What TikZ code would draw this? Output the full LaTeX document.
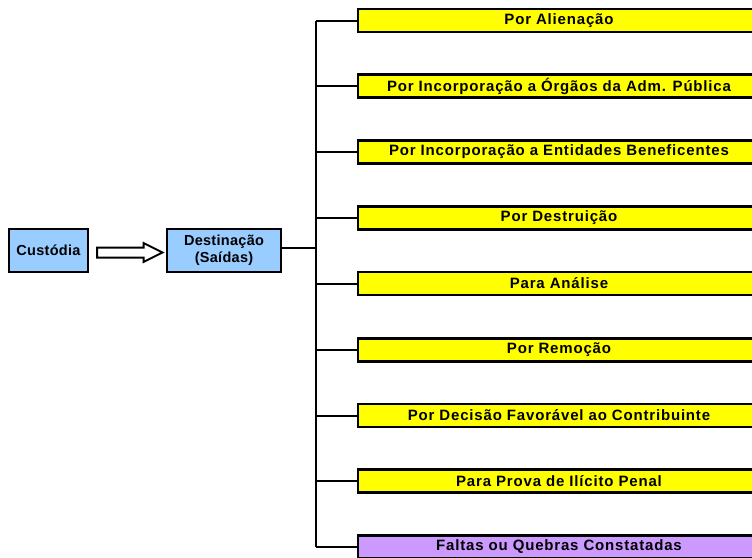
\documentclass[tikz,border=0pt]{standalone}
\usepackage{fontspec}
\setmainfont{Liberation Sans}
\newfontfamily\itemfont{Liberation Sans}[LetterSpace=5.5]
\newfontfamily\bluefont{Liberation Sans}[LetterSpace=2]
\definecolor{lblue}{HTML}{99CCFF}
\definecolor{yel}{HTML}{FFFF00}
\definecolor{lilac}{HTML}{CC99FF}
\tikzset{
  every node/.style={inner sep=0pt},
  bluebox/.style={draw=black, line width=2.5pt, fill=lblue, align=center,
    font=\bluefont\bfseries\fontsize{14.5}{16}\selectfont},
  itembox/.style={draw=black, line width=2.5pt, fill=yel, minimum width=402pt, minimum height=23pt,
    font=\itemfont\bfseries\fontsize{15}{17}\selectfont},
  purplebox/.style={itembox, fill=lilac},
  conn/.style={line width=2pt, draw=black},
}
\begin{document}
\begin{tikzpicture}[x=1pt,y=-1pt]
\useasboundingbox (0,0) rectangle (752,557);
\clip (0,0) rectangle (752,557);
\node[bluebox, minimum width=79pt, minimum height=43pt] (cust) at (48.5,250.5) {Custódia};
\node[bluebox, minimum width=114pt, minimum height=43pt] (dest) at (224,250.5) {Destinação\\[1pt](Saídas)};
\draw[line width=2pt, fill=white] (97,247.5) -- (143.5,247.5) -- (143.5,243) -- (162.5,252.5) -- (143.5,262) -- (143.5,257.5) -- (97,257.5) -- cycle;
\node[itembox] (b1) at (559,20.5) {Por Alienação};
\node[itembox] (b2) at (559,86) {Por Incorporação a Órgãos da Adm. Pública};
\node[itembox] (b3) at (559,152) {Por Incorporação a Entidades Beneficentes};
\node[itembox] (b4) at (559,218) {Por Destruição};
\node[itembox] (b5) at (559,283.5) {Para Análise};
\node[itembox] (b6) at (559,350) {Por Remoção};
\node[itembox] (b7) at (559,415.5) {Por Decisão Favorável ao Contribuinte};
\node[itembox] (b8) at (559,481) {Para Prova de Ilícito Penal};
\node[purplebox] (b9) at (559,547) {Faltas ou Quebras Constatadas};
\coordinate (jt) at (316,248);
\coordinate (top) at (316,20.5);
\coordinate (bot) at (316,547);
\draw[conn] (dest.east |- jt) -- (jt);
\draw[conn] (top) -- (bot);
\foreach \i in {1,...,9} {
  \draw[conn] (316,0 |- b\i.west) -- (b\i.west);
}
\end{tikzpicture}
\end{document}
